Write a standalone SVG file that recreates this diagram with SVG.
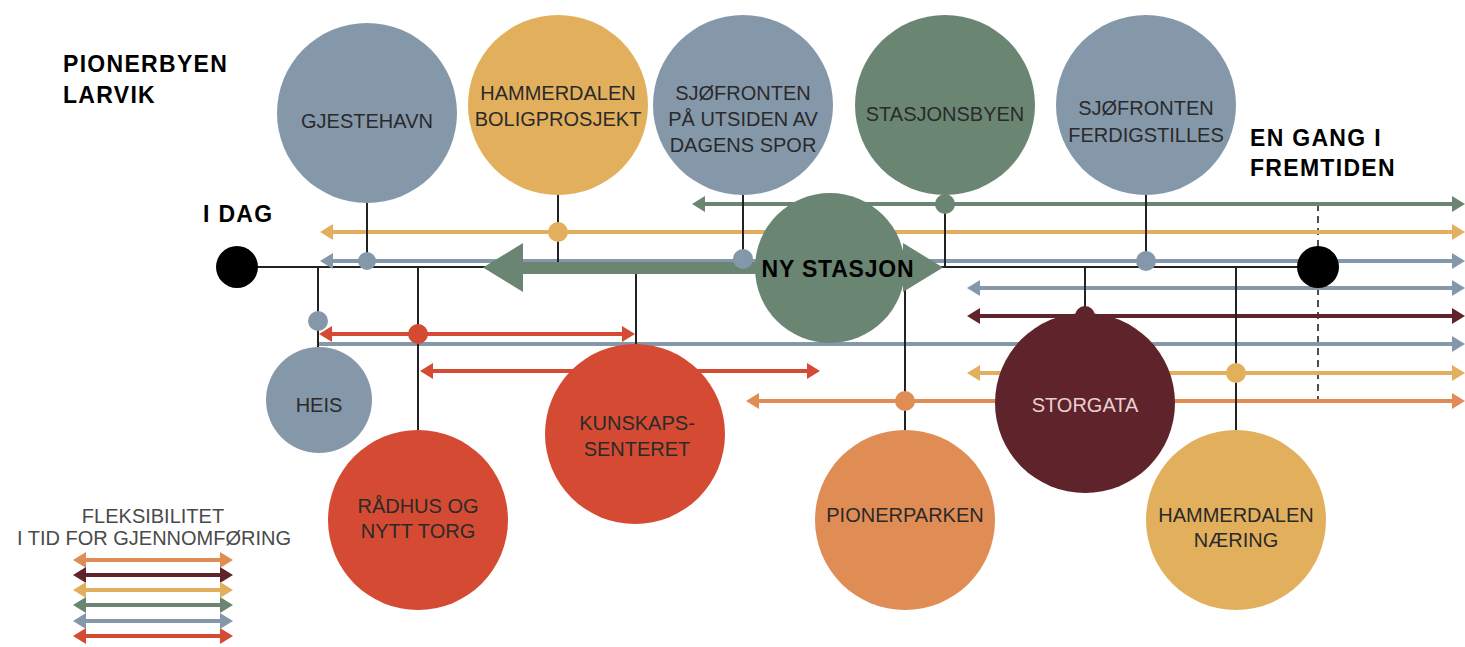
<svg xmlns="http://www.w3.org/2000/svg" width="1465" height="647" viewBox="0 0 1465 647">
<defs>
<style>
.ln{stroke-width:4;fill:none}
.k{stroke:#222;stroke-width:2;fill:none}
.blue{stroke:#8598AA}
.yel{stroke:#E2B05C}
.grn{stroke:#6A8673}
.red{stroke:#D54A32}
.mar{stroke:#5F232B}
.org{stroke:#DF8D55}
.fblue{fill:#8598AA}
.fyel{fill:#E2B05C}
.fgrn{fill:#6A8673}
.fred{fill:#D54A32}
.fmar{fill:#5F232B}
.forg{fill:#DF8D55}
.lbl{font-family:"Liberation Sans",Arial,sans-serif;font-size:20px;fill:#2a2a2a;text-anchor:middle}
.hd{font-family:"Liberation Sans",Arial,sans-serif;font-size:23px;font-weight:bold;fill:#000;letter-spacing:1.3px}
.leg{font-family:"Liberation Sans",Arial,sans-serif;font-size:20px;fill:#4a4a4a;text-anchor:middle}
</style>
<marker id="a-blue" viewBox="0 0 13 16" markerWidth="13" markerHeight="16" refX="8" refY="8" markerUnits="userSpaceOnUse" orient="auto-start-reverse"><path d="M0,0 L13,8 L0,16 z" fill="#8598AA"/></marker>
<marker id="a-yel" viewBox="0 0 13 16" markerWidth="13" markerHeight="16" refX="8" refY="8" markerUnits="userSpaceOnUse" orient="auto-start-reverse"><path d="M0,0 L13,8 L0,16 z" fill="#E2B05C"/></marker>
<marker id="a-grn" viewBox="0 0 13 16" markerWidth="13" markerHeight="16" refX="8" refY="8" markerUnits="userSpaceOnUse" orient="auto-start-reverse"><path d="M0,0 L13,8 L0,16 z" fill="#6A8673"/></marker>
<marker id="a-red" viewBox="0 0 13 16" markerWidth="13" markerHeight="16" refX="8" refY="8" markerUnits="userSpaceOnUse" orient="auto-start-reverse"><path d="M0,0 L13,8 L0,16 z" fill="#D54A32"/></marker>
<marker id="a-mar" viewBox="0 0 13 16" markerWidth="13" markerHeight="16" refX="8" refY="8" markerUnits="userSpaceOnUse" orient="auto-start-reverse"><path d="M0,0 L13,8 L0,16 z" fill="#5F232B"/></marker>
<marker id="a-org" viewBox="0 0 13 16" markerWidth="13" markerHeight="16" refX="8" refY="8" markerUnits="userSpaceOnUse" orient="auto-start-reverse"><path d="M0,0 L13,8 L0,16 z" fill="#DF8D55"/></marker>
</defs>
<rect width="1465" height="647" fill="#fff"/>

<g id="titles">
<text class="hd" x="63" y="72">PIONERBYEN</text>
<text class="hd" x="63" y="103">LARVIK</text>
<text class="hd" x="203" y="222">I DAG</text>
<text class="hd" x="1250" y="146">EN GANG I</text>
<text class="hd" x="1250" y="176">FREMTIDEN</text>
</g>

<g id="connectors">
<line class="k" x1="237" y1="267" x2="1318" y2="267"/>
<line class="k" x1="1318" y1="204" x2="1318" y2="401" stroke-dasharray="7 5" style="stroke-width:1.6"/>
<line class="ln grn" x1="697" y1="204" x2="1460" y2="204" marker-start="url(#a-grn)" marker-end="url(#a-grn)"/>
<line class="ln yel" x1="325" y1="232" x2="1460" y2="232" marker-start="url(#a-yel)" marker-end="url(#a-yel)"/>
<line class="ln blue" x1="325" y1="261" x2="1460" y2="261" marker-start="url(#a-blue)" marker-end="url(#a-blue)"/>
<line class="ln blue" x1="972" y1="288" x2="1460" y2="288" marker-start="url(#a-blue)" marker-end="url(#a-blue)"/>
<line class="ln mar" x1="972" y1="316" x2="1460" y2="316" marker-start="url(#a-mar)" marker-end="url(#a-mar)"/>
<line class="ln red" x1="324" y1="334" x2="630" y2="334" marker-start="url(#a-red)" marker-end="url(#a-red)"/>
<line class="ln blue" x1="318" y1="344" x2="1460" y2="344" marker-end="url(#a-blue)"/>
<line class="ln red" x1="425" y1="371" x2="815" y2="371" marker-start="url(#a-red)" marker-end="url(#a-red)"/>
<line class="ln yel" x1="972" y1="373" x2="1460" y2="373" marker-start="url(#a-yel)" marker-end="url(#a-yel)"/>
<line class="ln org" x1="751" y1="401" x2="1460" y2="401" marker-start="url(#a-org)" marker-end="url(#a-org)"/>
<line class="k" x1="367" y1="200" x2="367" y2="267"/>
<line class="k" x1="558" y1="192" x2="558" y2="267"/>
<line class="k" x1="743" y1="192" x2="743" y2="259"/>
<line class="k" x1="945" y1="192" x2="945" y2="267"/>
<line class="k" x1="1146" y1="192" x2="1146" y2="261"/>
<line class="k" x1="318" y1="267" x2="318" y2="350"/>
<line class="k" x1="418" y1="267" x2="418" y2="432"/>
<line class="k" x1="636" y1="267" x2="636" y2="347"/>
<line class="k" x1="905" y1="267" x2="905" y2="432"/>
<line class="k" x1="1085" y1="267" x2="1085" y2="316"/>
<line class="k" x1="1236" y1="267" x2="1236" y2="432"/>
</g>

<g id="ny-stasjon">
<path class="fgrn" d="M483,267.5 L523,243 L523,262 L903,262 L903,243 L943,267.5 L903,292 L903,274 L523,274 L523,292 z"/>
<circle class="fgrn" cx="830" cy="268" r="75"/>
<text class="hd" x="838" y="277" text-anchor="middle" style="letter-spacing:0.8px">NY STASJON</text>
</g>

<g id="dots">
<circle class="fblue" cx="367" cy="261" r="9"/>
<circle class="fyel" cx="558" cy="232" r="10"/>
<circle class="fblue" cx="743" cy="259" r="10"/>
<circle class="fgrn" cx="945" cy="204" r="10"/>
<circle class="fblue" cx="1146" cy="261" r="10"/>
<circle class="fblue" cx="318" cy="321" r="10"/>
<circle class="fred" cx="418" cy="334" r="10"/>
<circle class="forg" cx="905" cy="401" r="10"/>
<circle class="fyel" cx="1236" cy="373" r="10"/>
<circle class="fmar" cx="1085" cy="316" r="10"/>
</g>

<g id="i-dag"><circle cx="237" cy="267" r="21" fill="#000"/></g>
<g id="fremtiden"><circle cx="1318" cy="267" r="21" fill="#000"/></g>

<g id="gjestehavn">
<circle class="fblue" cx="367" cy="113" r="90"/>
<text class="lbl" x="367" y="128">GJESTEHAVN</text>
</g>
<g id="hammerdalen-bolig">
<circle class="fyel" cx="558" cy="105" r="90"/>
<text class="lbl" x="558" y="100">HAMMERDALEN</text>
<text class="lbl" x="558" y="126">BOLIGPROSJEKT</text>
</g>
<g id="sjofronten-utsiden">
<circle class="fblue" cx="743" cy="105" r="90"/>
<text class="lbl" x="743" y="100">SJØFRONTEN</text>
<text class="lbl" x="743" y="126">PÅ UTSIDEN AV</text>
<text class="lbl" x="743" y="152">DAGENS SPOR</text>
</g>
<g id="stasjonsbyen">
<circle class="fgrn" cx="945" cy="105" r="90"/>
<text class="lbl" x="945" y="121">STASJONSBYEN</text>
</g>
<g id="sjofronten-ferdig">
<circle class="fblue" cx="1146" cy="105" r="90"/>
<text class="lbl" x="1146" y="115">SJØFRONTEN</text>
<text class="lbl" x="1146" y="142">FERDIGSTILLES</text>
</g>
<g id="heis">
<circle class="fblue" cx="319" cy="400" r="53"/>
<text class="lbl" x="319" y="412">HEIS</text>
</g>
<g id="radhus">
<circle class="fred" cx="418" cy="520" r="90"/>
<text class="lbl" x="418" y="513">RÅDHUS OG</text>
<text class="lbl" x="418" y="538">NYTT TORG</text>
</g>
<g id="kunnskapssenteret">
<circle class="fred" cx="635" cy="434" r="90"/>
<text class="lbl" x="637" y="430">KUNSKAPS-</text>
<text class="lbl" x="637" y="456">SENTERET</text>
</g>
<g id="pionerparken">
<circle class="forg" cx="905" cy="520" r="90"/>
<text class="lbl" x="905" y="522">PIONERPARKEN</text>
</g>
<g id="storgata">
<circle class="fmar" cx="1085" cy="403" r="90"/>
<text class="lbl" x="1085" y="412" style="fill:#EBCFCF">STORGATA</text>
</g>
<g id="hammerdalen-naering">
<circle class="fyel" cx="1236" cy="520" r="90"/>
<text class="lbl" x="1236" y="522">HAMMERDALEN</text>
<text class="lbl" x="1236" y="547">NÆRING</text>
</g>

<g id="legend">
<text class="leg" x="153" y="523">FLEKSIBILITET</text>
<text class="leg" x="154" y="545">I TID FOR GJENNOMFØRING</text>
<line class="ln org" x1="78" y1="560" x2="228" y2="560" marker-start="url(#a-org)" marker-end="url(#a-org)"/>
<line class="ln mar" x1="78" y1="575" x2="228" y2="575" marker-start="url(#a-mar)" marker-end="url(#a-mar)"/>
<line class="ln yel" x1="78" y1="590" x2="228" y2="590" marker-start="url(#a-yel)" marker-end="url(#a-yel)"/>
<line class="ln grn" x1="78" y1="605" x2="228" y2="605" marker-start="url(#a-grn)" marker-end="url(#a-grn)"/>
<line class="ln blue" x1="78" y1="621" x2="228" y2="621" marker-start="url(#a-blue)" marker-end="url(#a-blue)"/>
<line class="ln red" x1="78" y1="636" x2="228" y2="636" marker-start="url(#a-red)" marker-end="url(#a-red)"/>
</g>
</svg>
